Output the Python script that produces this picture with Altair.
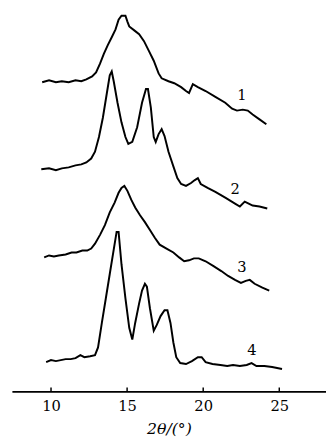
import altair as alt
import pandas as pd

# Curve 1
x1 = [9.42, 9.87, 10.32, 10.71, 11.16, 11.61, 11.99, 12.32, 12.70, 12.96, 13.22, 13.47, 13.73, 13.99,
      14.24, 14.44, 14.63, 14.89, 15.02, 15.14, 15.47, 15.79, 16.11, 16.43, 16.75, 17.07, 17.27, 17.72,
      18.10, 18.55, 18.87, 19.07, 19.32, 19.65, 20.16, 20.80, 21.45, 21.90, 22.22, 22.60, 22.93, 23.25,
      23.70, 24.15]
y1 = [316, 318, 316, 317, 316, 318, 317, 319, 322, 326, 335, 345, 354, 362,
      370, 380, 384, 384, 378, 373, 369, 365, 358, 348, 338, 325, 320, 317,
      315, 311, 307, 305, 314, 311, 307, 301, 295, 289, 287, 288, 287, 283,
      278, 273]

# Curve 2
x2 = [9.36, 9.87, 10.32, 10.71, 11.16, 11.61, 11.99, 12.32, 12.64, 12.89, 13.15, 13.41, 13.67, 13.86,
      13.99, 14.12, 14.37, 14.63, 14.89, 15.08, 15.34, 15.66, 15.98, 16.24, 16.37, 16.56, 16.75, 16.88,
      17.07, 17.27, 17.46, 17.72, 18.04, 18.30, 18.55, 18.87, 19.20, 19.45, 19.65, 19.84, 20.29, 20.80,
      21.45, 22.09, 22.41, 22.73, 22.99, 23.25, 23.70, 24.21]
y2 = [227, 228, 226, 228, 229, 231, 232, 234, 238, 245, 260, 280, 305, 323,
      327, 317, 295, 275, 260, 253, 255, 270, 295, 309, 309, 290, 260, 255,
      263, 268, 261, 245, 230, 218, 212, 210, 213, 216, 218, 212, 208, 204,
      198, 192, 189, 194, 192, 190, 189, 187]

# Curve 3
x3 = [9.55, 9.87, 10.19, 10.51, 10.96, 11.35, 11.67, 12.06, 12.38, 12.64, 12.89, 13.22, 13.54, 13.86,
      14.18, 14.44, 14.63, 14.82, 15.02, 15.27, 15.53, 15.85, 16.17, 16.50, 16.82, 17.14, 17.59, 18.04,
      18.42, 18.75, 19.07, 19.39, 19.71, 20.16, 20.68, 21.19, 21.64, 22.09, 22.48, 22.80, 23.06, 23.38,
      23.89, 24.34]
y3 = [137, 139, 138, 139, 140, 142, 142, 144, 144, 146, 151, 160, 170, 183,
      193, 203, 208, 210, 205, 196, 188, 180, 173, 165, 157, 150, 146, 142,
      137, 133, 134, 136, 136, 133, 128, 123, 118, 114, 111, 113, 114, 110,
      106, 103]

# Curve 4
x4 = [9.68, 10.00, 10.32, 10.64, 10.96, 11.29, 11.61, 11.93, 12.19, 12.57, 12.89, 13.09, 13.34, 13.60,
      13.86, 14.12, 14.31, 14.44, 14.63, 14.89, 15.14, 15.34, 15.53, 15.79, 15.98, 16.17, 16.30, 16.50,
      16.75, 16.95, 17.20, 17.46, 17.65, 17.85, 18.04, 18.23, 18.49, 18.87, 19.26, 19.65, 19.90, 20.16,
      20.61, 21.13, 21.58, 21.96, 22.41, 22.86, 23.18, 23.50, 24.02, 24.53, 25.18]
y4 = [30, 32, 31, 32, 33, 33, 34, 37, 35, 36, 37, 45, 70, 95,
      120, 145, 163, 163, 130, 95, 65, 53, 70, 90, 103, 110, 107, 85,
      62, 68, 77, 83, 83, 70, 50, 35, 29, 28, 31, 35, 35, 30,
      28, 27, 26, 27, 26, 27, 29, 26, 26, 25, 23]

label_text = ["1", "2", "3", "4"]
label_x = [22.55, 22.1, 22.55, 23.2]
label_y = [303, 207, 127, 42]

tick_values = [10, 15, 20, 25]

rows = []
for name, xs, ys in [("1", x1, y1), ("2", x2, y2), ("3", x3, y3), ("4", x4, y4)]:
    for i, (a, b) in enumerate(zip(xs, ys)):
        rows.append({"curve": name, "order": i, "theta": a, "v": b})
df = pd.DataFrame(rows)
lab = pd.DataFrame({"t": label_text, "theta": label_x, "v": label_y})
ticks = pd.DataFrame({"theta": tick_values})

W, H = 321, 387
xscale = alt.Scale(domain=[7.43, 28.07], nice=False, zero=False)
yscale = alt.Scale(domain=[0, 387], nice=False, zero=False)

lines = alt.Chart(df).mark_line(color="black", strokeWidth=2, strokeJoin="miter").encode(
    x=alt.X("theta:Q", scale=xscale,
            axis=alt.Axis(values=tick_values, title="2θ/(°)", grid=False, ticks=False,
                          domainColor="black", domainWidth=1.8, labelFont="DejaVu Serif",
                          labelFontSize=15, labelColor="black", labelPadding=8,
                          titleFont="DejaVu Serif", titleFontSize=16, titleFontStyle="italic",
                          titleFontWeight="normal", titleColor="black", titlePadding=7)),
    y=alt.Y("v:Q", scale=yscale, axis=None),
    detail="curve:N",
    order="order:Q",
)

labels = alt.Chart(lab).mark_text(font="DejaVu Serif", fontSize=15, color="black").encode(
    x=alt.X("theta:Q", scale=xscale),
    y=alt.Y("v:Q", scale=yscale),
    text="t:N",
)

tickmarks = alt.Chart(ticks).mark_rule(color="black", strokeWidth=1.5).encode(
    x=alt.X("theta:Q", scale=xscale),
    y=alt.value(H),
    y2=alt.value(H - 4),
)

chart = alt.layer(lines, labels, tickmarks).properties(
    width=W, height=H,
    autosize=alt.AutoSizeParams(type="none"),
    padding={"left": 4, "top": 0, "right": 0, "bottom": 55},
).configure_view(stroke=None)

chart.save("out.html", embed_options={"renderer": "svg", "actions": False})
